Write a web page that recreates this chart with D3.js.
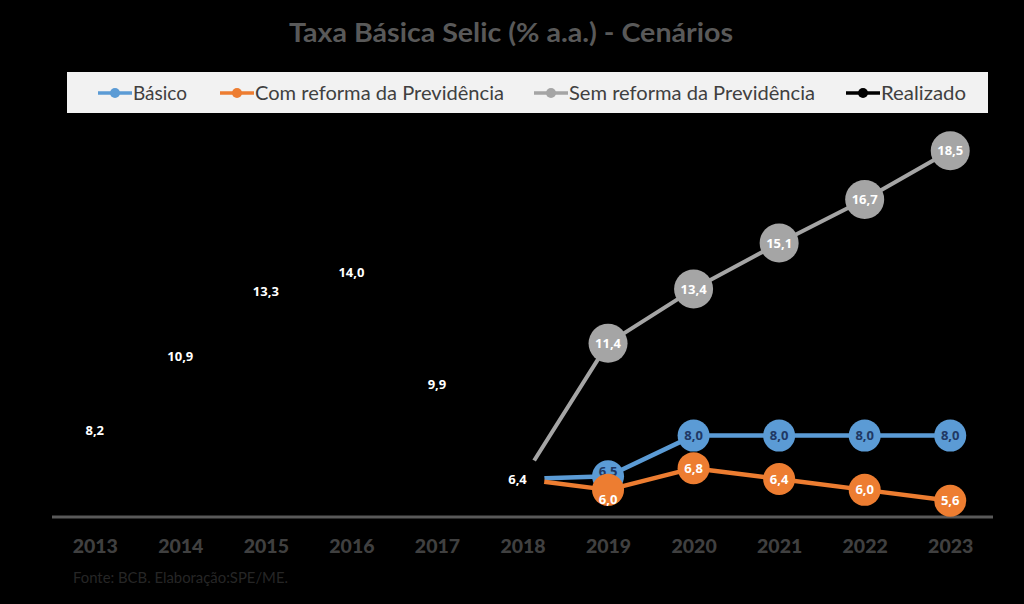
<!DOCTYPE html>
<html>
<head>
<meta charset="utf-8">
<script src="https://cdn.jsdelivr.net/npm/d3@7"></script>
<style>
  html, body { margin: 0; padding: 0; background: #000; }
  svg { display: block; }
</style>
</head>
<body>
<svg id="chart" width="1024" height="604"></svg>
<script>
// ---- Data ----
const years = ["2013","2014","2015","2016","2017","2018","2019","2020","2021","2022","2023"];
const realizadoYears = ["2013","2014","2015","2016","2017","2018"];
const realizado = [8.2, 10.9, 13.3, 14.0, 9.9, 6.4];
const cenarioYears = ["2018","2019","2020","2021","2022","2023"];
const basico = [6.4, 6.5, 8.0, 8.0, 8.0, 8.0];
const comReforma = [6.4, 6.0, 6.8, 6.4, 6.0, 5.6];
const semReforma = [6.4, 11.4, 13.4, 15.1, 16.7, 18.5];
const seriesNames = ["Básico", "Com reforma da Previdência", "Sem reforma da Previdência", "Realizado"];
const titleText = "Taxa Básica Selic (% a.a.) - Cenários";
const sourceText = "Fonte: BCB. Elaboração:SPE/ME.";

// ---- Layout ----
const svg = d3.select("#chart");
svg.append("rect").attr("width", 1024).attr("height", 604).attr("fill", "#000");

const x = d3.scalePoint().domain(years).range([52, 993]).padding(0.5);
const y = d3.scaleLinear().domain([5, 20]).range([517, 110]);

// Title
svg.append("text")
  .attr("x", 511).attr("y", 42)
  .attr("text-anchor", "middle")
  .attr("font-family", "Lato, 'Open Sans', sans-serif")
  .attr("font-weight", "bold")
  .attr("font-size", 26)
  .attr("fill", "#595959")
  .attr("textLength", 444).attr("lengthAdjust", "spacingAndGlyphs")
  .text(titleText);

// Legend
const legendColors = ["#5B9BD5", "#ED7D31", "#A5A5A5", "#000000"];
const legendMarkX = [98, 220, 534, 846];
const legendTextW = [54, 249, 246, 85];
svg.append("rect").attr("x", 67).attr("y", 72).attr("width", 921).attr("height", 41).attr("fill", "#F2F2F2");
const lg = svg.append("g");
seriesNames.forEach((name, i) => {
  const g = lg.append("g").attr("transform", `translate(${legendMarkX[i]},93)`);
  g.append("line").attr("x1", 0).attr("x2", 34).attr("y1", 0).attr("y2", 0)
    .attr("stroke", legendColors[i]).attr("stroke-width", 3.5);
  g.append("circle").attr("cx", 17).attr("cy", 0).attr("r", 5).attr("fill", legendColors[i]);
  g.append("text").attr("x", 35).attr("y", 6.5)
    .attr("font-family", "Lato, 'Open Sans', sans-serif")
    .attr("font-size", 19)
    .attr("fill", "#404040")
    .attr("textLength", legendTextW[i]).attr("lengthAdjust", "spacingAndGlyphs")
    .text(name);
});

// Axis
const xAxis = d3.axisBottom(x).tickSize(0).tickPadding(22);
const axG = svg.append("g").attr("transform", "translate(0,517)").call(xAxis);
axG.select(".domain").attr("stroke", "#595959").attr("stroke-width", 3)
  .attr("d", "M52,0H993");
axG.selectAll("text")
  .attr("font-family", "Lato, 'Open Sans', sans-serif")
  .attr("font-weight", "900")
  .attr("font-size", 19.5)
  .attr("fill", "#404040");

// Source
svg.append("text").attr("x", 73).attr("y", 583)
  .attr("font-family", "Lato, 'Open Sans', sans-serif")
  .attr("font-size", 14.5)
  .attr("fill", "#262626")
  .attr("textLength", 215).attr("lengthAdjust", "spacingAndGlyphs")
  .text(sourceText);

const line = d3.line().x(d => x(d.year)).y(d => y(d.v));
const fmt = v => d3.format(".1f")(v).replace(".", ",");

function drawSeries(yrs, vals, opts) {
  const pts = yrs.map((yr, i) => ({ year: yr, v: vals[i] }));
  const g = svg.append("g");
  g.append("path").datum(pts).attr("d", line)
    .attr("fill", "none").attr("stroke", opts.color).attr("stroke-width", opts.lw)
    .attr("stroke-linejoin", "round");
  const mp = pts.filter((d, i) => i >= opts.skip);
  g.selectAll("circle").data(mp).join("circle")
    .attr("cx", d => x(d.year)).attr("cy", d => y(d.v))
    .attr("r", opts.r).attr("fill", opts.color);
  g.selectAll("text").data(mp).join("text")
    .attr("x", d => x(d.year) + (opts.dx[d.year] || 0))
    .attr("y", d => y(d.v) + (opts.dy[d.year] || 0))
    .attr("dy", "0.35em")
    .attr("text-anchor", "middle")
    .attr("font-family", "'Open Sans', sans-serif")
    .attr("font-weight", "bold")
    .attr("font-size", 13)
    .attr("fill", opts.textColor)
    .text(d => fmt(d.v));
}

drawSeries(cenarioYears, basico, { color: "#5B9BD5", lw: 4.5, r: 16, skip: 1, textColor: "#203864", dx: {}, dy: { "2019": -5 } });
drawSeries(cenarioYears, comReforma, { color: "#ED7D31", lw: 4.5, r: 16, skip: 1, textColor: "#FFFFFF", dx: {}, dy: { "2019": 10 } });
drawSeries(cenarioYears, semReforma, { color: "#A5A5A5", lw: 4, r: 19.5, skip: 1, textColor: "#FFFFFF", dx: {}, dy: {} });
drawSeries(realizadoYears, realizado, { color: "#000000", lw: 4.5, r: 22, skip: 0, textColor: "#FFFFFF", dx: { "2018": -5 }, dy: {} });
</script>
</body>
</html>
